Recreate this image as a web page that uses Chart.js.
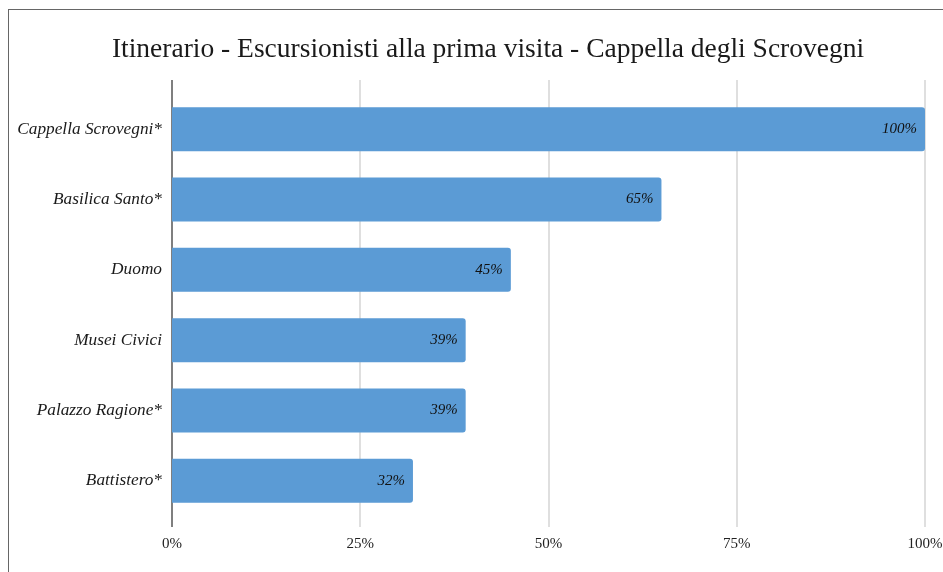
<!DOCTYPE html>
<html><head><meta charset="utf-8">
<script src="https://cdn.jsdelivr.net/npm/chart.js@4/dist/chart.umd.min.js"></script>
<style>
html,body{margin:0;padding:0;background:#fff;overflow:hidden;width:943px;height:572px}
#frame{position:absolute;left:8px;top:9px;width:1000px;height:600px;border-top:1px solid #666;border-left:1px solid #666}
canvas{display:block}
</style></head>
<body>
<div id="frame"><canvas id="c" width="960" height="562"></canvas></div>
<script>
const categories = ["Cappella Scrovegni*", "Basilica Santo*", "Duomo", "Musei Civici", "Palazzo Ragione*", "Battistero*"];
const values = [100, 65, 45, 39, 39, 32];
const tickValues = [0, 25, 50, 75, 100];
const titleText = "Itinerario - Escursionisti alla prima visita - Cappella degli Scrovegni";
const FONT = "'Liberation Serif', 'DejaVu Serif', serif";

const gridPlugin = {
  id: 'gridExt',
  afterLayout(chart) {
    // let the category labels extend left into the padding without clipping
    chart.scales.y.left = 0;
  },
  beforeDatasetsDraw(chart) {
    const ctx = chart.ctx, x = chart.scales.x, a = chart.chartArea;
    ctx.save();
    tickValues.forEach(v => {
      const px = Math.round(x.getPixelForValue(v));
      ctx.beginPath();
      ctx.lineWidth = 1.5;
      ctx.strokeStyle = v === 0 ? '#555' : '#d4d4d4';
      ctx.moveTo(px, a.top - 14);
      ctx.lineTo(px, a.bottom + 11);
      ctx.stroke();
    });
    ctx.restore();
  },
  afterDatasetsDraw(chart) {
    const ctx = chart.ctx;
    const meta = chart.getDatasetMeta(0);
    ctx.save();
    ctx.font = "italic 15px " + FONT;
    ctx.fillStyle = '#111';
    ctx.textAlign = 'right';
    ctx.textBaseline = 'middle';
    meta.data.forEach((bar, i) => {
      ctx.fillText(values[i] + '%', bar.x - 8, bar.y);
    });
    ctx.restore();
  }
};

new Chart(document.getElementById('c'), {
  type: 'bar',
  data: {
    labels: categories,
    datasets: [{
      data: values,
      backgroundColor: '#5b9bd5',
      borderWidth: 0,
      borderRadius: 3,
      borderSkipped: 'start',
      barPercentage: 0.625,
      categoryPercentage: 1.0
    }]
  },
  options: {
    indexAxis: 'y',
    responsive: false,
    animation: false,
    layout: { padding: { left: 42, right: 44, top: 0, bottom: 0 } },
    plugins: {
      legend: { display: false },
      tooltip: { enabled: false },
      title: {
        display: true,
        text: titleText,
        color: '#1a1a1a',
        font: { family: FONT, size: 27.5, weight: 'normal' },
        padding: { top: 23, bottom: 28 }
      }
    },
    scales: {
      x: {
        min: 0, max: 100,
        afterBuildTicks: s => { s.ticks = tickValues.map(v => ({ value: v })); },
        grid: { display: false, drawTicks: false },
        border: { display: false },
        ticks: {
          padding: 19,
          color: '#222',
          font: { family: FONT, size: 15 },
          maxRotation: 0,
          callback: v => v + '%'
        }
      },
      y: {
        afterFit: s => { s.width = 121; },
        grid: { display: false, drawTicks: false },
        border: { display: false },
        ticks: {
          padding: 10,
          color: '#1a1a1a',
          font: { family: FONT, size: 17.3, style: 'italic' }
        }
      }
    }
  },
  plugins: [gridPlugin]
});
</script>
</body></html>
